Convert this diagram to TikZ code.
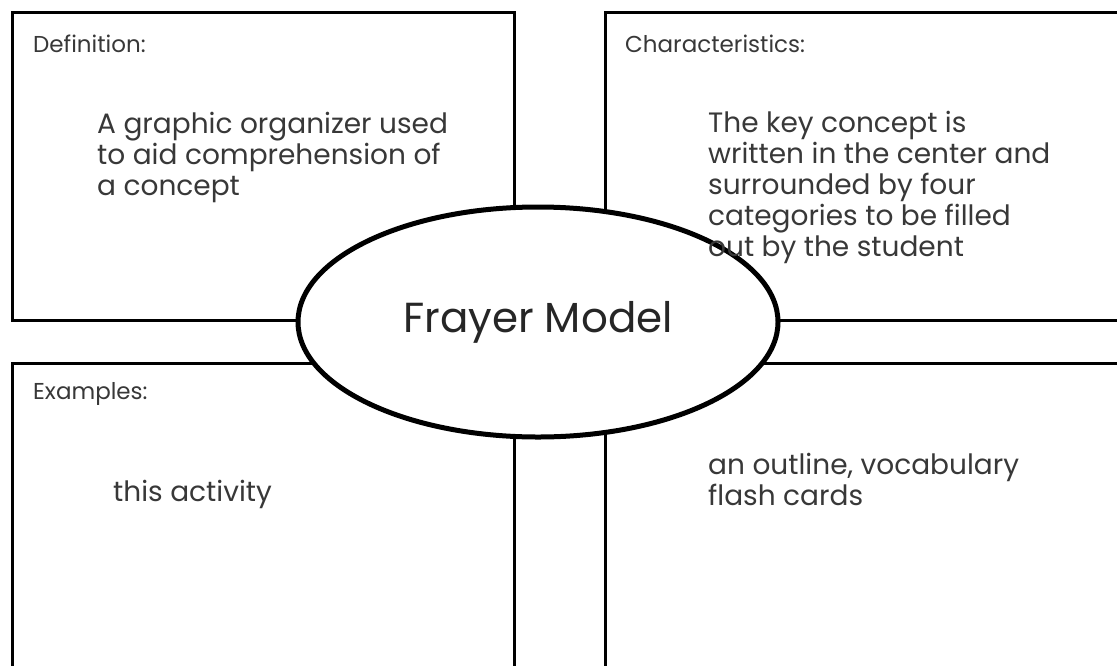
\documentclass[tikz,border=0pt]{standalone}
\usepackage{fontspec}
\setmainfont{Poppins}
\usetikzlibrary{shapes.geometric}
\begin{document}
\begin{tikzpicture}[x=1pt,y=-1pt,
  quad/.style={draw=black, line width=3pt, rectangle, anchor=north west, inner sep=0pt, outer sep=0pt},
  lbl/.style={anchor=base west, text=black!78, font=\fontsize{23}{26}\selectfont, inner sep=0pt},
  body/.style={anchor=base west, text=black!78, align=left, font=\fontsize{28}{30.8}\selectfont, inner sep=0pt},
  centre/.style={ellipse, draw=black, line width=5pt, fill=white, inner sep=0pt, outer sep=0pt,
    minimum width=480pt, minimum height=230pt, font=\fontsize{42}{46}\selectfont, text=black!85}]
\useasboundingbox (0,0) rectangle (1117,665);
\fill[white] (0,0) rectangle (1117,665);
\clip (0,0) rectangle (1117,665);
% quadrants
\node[quad, minimum width=502pt, minimum height=308pt] (def) at (12,12) {};
\node[quad, minimum width=530pt, minimum height=308pt] (chr) at (605,12) {};
\node[quad, minimum width=502pt, minimum height=320pt] (exa) at (12,363) {};
\node[quad, minimum width=530pt, minimum height=320pt] (non) at (605,363) {};
% centre
\node[centre] (fm) at (538,322) {Frayer Model};
% labels
\node[lbl] (tdef) at (33,52) {Definition:};
\node[lbl] (tchr) at (625,52) {Characteristics:};
\node[lbl] (texa) at (33,399) {Examples:};
% texts (anchored at the baseline of their last line)
\node[body] (bdef) at (97,195) {A graphic organizer used\\to aid comprehension of\\a concept};
\node[body] (bchr) at (708,256) {The key concept is\\written in the center and\\surrounded by four\\categories to be filled\\out by the student};
\node[body] (bexa) at (113,501) {this activity};
\node[body] (bnon) at (708,505) {an outline, vocabulary\\flash cards};
\end{tikzpicture}
\end{document}
